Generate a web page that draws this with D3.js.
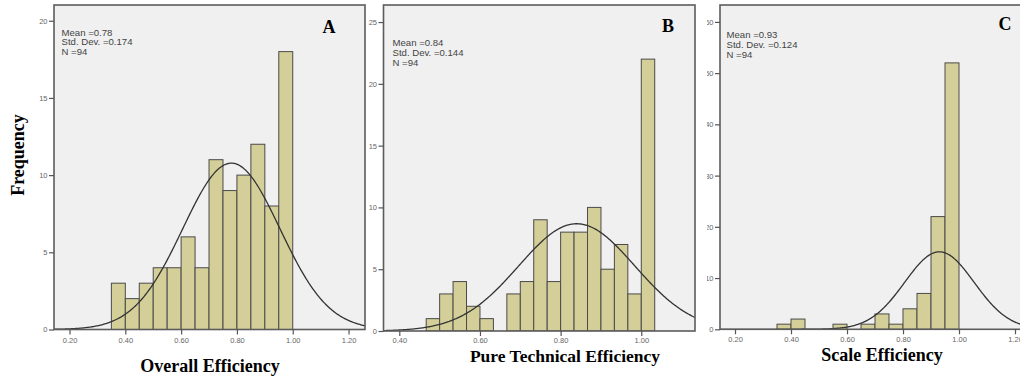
<!DOCTYPE html>
<html>
<head>
<meta charset="utf-8">
<script src="https://cdn.jsdelivr.net/npm/d3@7"></script>
<style>
  body { margin: 0; background: #fff; }
  svg { display: block; }
</style>
</head>
<body>
<div id="chart"></div>
<script>
// A - Overall Efficiency (bin lower edges, width 0.05)
const overallBins = [0.35, 0.40, 0.45, 0.50, 0.55, 0.60, 0.65, 0.70, 0.75, 0.80, 0.85, 0.90, 0.95];
const overallCounts = [3, 2, 3, 4, 4, 6, 4, 11, 9, 10, 12, 8, 18];
const overallBinWidth = 0.05;
const overallStats = { mean: 0.78, sd: 0.174, n: 94 };
const overallXTicks = [0.2, 0.4, 0.6, 0.8, 1.0, 1.2];
const overallYTicks = [0, 5, 10, 15, 20];

// B - Pure Technical Efficiency (bin width 1/30)
const pureBins = [0.4667, 0.5, 0.5333, 0.5667, 0.6, 0.6333, 0.6667, 0.7, 0.7333, 0.7667, 0.8, 0.8333, 0.8667, 0.9, 0.9333, 0.9667, 1.0];
const pureCounts = [1, 3, 4, 2, 1, 0, 3, 4, 9, 4, 8, 8, 10, 5, 7, 3, 22];
const pureBinWidth = 0.03333;
const pureStats = { mean: 0.84, sd: 0.144, n: 94 };
const pureXTicks = [0.4, 0.6, 0.8, 1.0];
const pureYTicks = [0, 5, 10, 15, 20, 25];

// C - Scale Efficiency (width 0.05)
const scaleBins = [0.35, 0.40, 0.45, 0.50, 0.55, 0.60, 0.65, 0.70, 0.75, 0.80, 0.85, 0.90, 0.95];
const scaleCounts = [1, 2, 0, 0, 1, 0, 1, 3, 1, 4, 7, 22, 52];
const scaleBinWidth = 0.05;
const scaleStats = { mean: 0.93, sd: 0.124, n: 94 };
const scaleXTicks = [0.2, 0.4, 0.6, 0.8, 1.0, 1.2];
const scaleYTicks = [0, 10, 20, 30, 40, 50, 60];

const W = 1020, H = 377;

const panels = [
  { letter: 'A', title: 'Overall Efficiency', bins: overallBins, counts: overallCounts, bw: overallBinWidth,
    stats: overallStats, xTicks: overallXTicks, yTicks: overallYTicks, tickPad: 3,
    left: 54, right: 365, top: 5, bottom: 329.5, xDom: [0.1444, 1.259], yMax: 21.02,
    statX: 61.5, statY: 36, statGap: 9.4, letterX: 329, letterY: 33, titleX: 210, titleY: 372, titleSize: 18 },
  { letter: 'B', title: 'Pure Technical Efficiency', bins: pureBins, counts: pureCounts, bw: pureBinWidth,
    stats: pureStats, xTicks: pureXTicks, yTicks: pureYTicks, tickPad: 2,
    left: 383.5, right: 695, top: 5, bottom: 331, xDom: [0.3608, 1.1332], yMax: 26.38,
    statX: 392.5, statY: 46, statGap: 9.8, letterX: 668, letterY: 32, titleX: 565, titleY: 361.5, titleSize: 17.5 },
  { letter: 'C', title: 'Scale Efficiency', bins: scaleBins, counts: scaleCounts, bw: scaleBinWidth,
    stats: scaleStats, xTicks: scaleXTicks, yTicks: scaleYTicks, clipLabels: 707, tickPad: 2,
    left: 720, right: 1029, top: 5, bottom: 329.3, xDom: [0.1464, 1.25], yMax: 63.3,
    statX: 726.5, statY: 37.5, statGap: 10.3, letterX: 1005, letterY: 30, titleX: 882, titleY: 361, titleSize: 18 }
];

const svg = d3.select('#chart').append('svg')
  .attr('width', W)
  .attr('height', H);

const defs = svg.append('defs');

panels.forEach((p, i) => {
  const x = d3.scaleLinear().domain(p.xDom).range([p.left, p.right]);
  const y = d3.scaleLinear().domain([0, p.yMax]).range([p.bottom, p.top]);

  defs.append('clipPath').attr('id', 'plot' + i)
    .append('rect')
    .attr('x', p.left).attr('y', p.top)
    .attr('width', p.right - p.left).attr('height', p.bottom - p.top);

  // plot background
  svg.append('rect')
    .attr('x', p.left).attr('y', p.top)
    .attr('width', p.right - p.left).attr('height', p.bottom - p.top)
    .attr('fill', '#f0f0f0');

  const g = svg.append('g').attr('clip-path', `url(#plot${i})`);

  const bars = p.bins.map((b, k) => ({ x0: b, x1: b + p.bw, n: p.counts[k] })).filter(d => d.n > 0);

  g.selectAll('rect.bar').data(bars)
    .enter().append('rect')
    .attr('class', 'bar')
    .attr('x', d => x(d.x0))
    .attr('y', d => y(d.n))
    .attr('width', d => x(d.x1) - x(d.x0))
    .attr('height', d => y(0) - y(d.n))
    .attr('fill', '#d4cf99')
    .attr('stroke', '#4a4a4a')
    .attr('stroke-width', 1);

  // fitted normal curve
  const s = p.stats;
  const scaleK = s.n * p.bw / (s.sd * Math.sqrt(2 * Math.PI));
  const xs = d3.range(0, 301).map(k => p.xDom[0] + (p.xDom[1] - p.xDom[0]) * k / 300);
  const line = d3.line()
    .x(v => x(v))
    .y(v => y(scaleK * Math.exp(-0.5 * Math.pow((v - s.mean) / s.sd, 2))));
  g.append('path')
    .datum(xs)
    .attr('d', line)
    .attr('fill', 'none')
    .attr('stroke', '#333')
    .attr('stroke-width', 1.3);

  // frame
  svg.append('rect')
    .attr('x', p.left).attr('y', p.top)
    .attr('width', p.right - p.left).attr('height', p.bottom - p.top)
    .attr('fill', 'none')
    .attr('stroke', '#5c5c5c')
    .attr('stroke-width', 1.6);

  // axes
  const fmtX = d3.format('.2f');
  const xAxis = svg.append('g')
    .attr('transform', `translate(0,${p.bottom})`)
    .call(d3.axisBottom(x).tickValues(p.xTicks).tickFormat(fmtX).tickSize(5).tickPadding(p.tickPad));

  let yHolder = svg.append('g');
  if (p.clipLabels) {
    defs.append('clipPath').attr('id', 'ylab' + i)
      .append('rect').attr('x', p.clipLabels).attr('y', 0).attr('width', 100).attr('height', H);
    yHolder.attr('clip-path', `url(#ylab${i})`);
  }
  const yAxis = yHolder.append('g')
    .attr('transform', `translate(${p.left},0)`)
    .call(d3.axisLeft(y).tickValues(p.yTicks).tickSize(5).tickPadding(1.5));

  [xAxis, yAxis].forEach(a => {
    a.select('.domain').remove();
    a.selectAll('.tick line').attr('stroke', '#555').attr('stroke-width', 1.2);
    a.selectAll('.tick text')
      .attr('fill', '#666')
      .style('font-family', 'Liberation Sans, Arial, sans-serif')
      .style('font-size', '7.5px');
  });

  // statistics box
  const statLines = [`Mean =${s.mean.toFixed(2)}`, `Std. Dev. =${s.sd.toFixed(3)}`, `N =${s.n}`];
  svg.append('g').selectAll('text').data(statLines)
    .enter().append('text')
    .attr('x', p.statX)
    .attr('y', (d, k) => p.statY + k * p.statGap)
    .attr('fill', '#444')
    .style('font-family', 'Liberation Sans, Arial, sans-serif')
    .style('font-size', '9.6px')
    .text(d => d);

  // panel letter
  svg.append('text')
    .attr('x', p.letterX).attr('y', p.letterY)
    .attr('text-anchor', 'middle')
    .style('font-family', 'Liberation Serif, Times New Roman, serif')
    .style('font-weight', 'bold')
    .style('font-size', '18px')
    .text(p.letter);

  // axis title
  svg.append('text')
    .attr('x', p.titleX).attr('y', p.titleY)
    .attr('text-anchor', 'middle')
    .style('font-family', 'Liberation Serif, Times New Roman, serif')
    .style('font-weight', 'bold')
    .style('font-size', p.titleSize + 'px')
    .text(p.title);
});

svg.append('text')
  .attr('transform', 'translate(23.5,155) rotate(-90)')
  .attr('text-anchor', 'middle')
  .style('font-family', 'Liberation Serif, Times New Roman, serif')
  .style('font-weight', 'bold')
  .style('font-size', '18px')
  .text('Frequency');
</script>
</body>
</html>
